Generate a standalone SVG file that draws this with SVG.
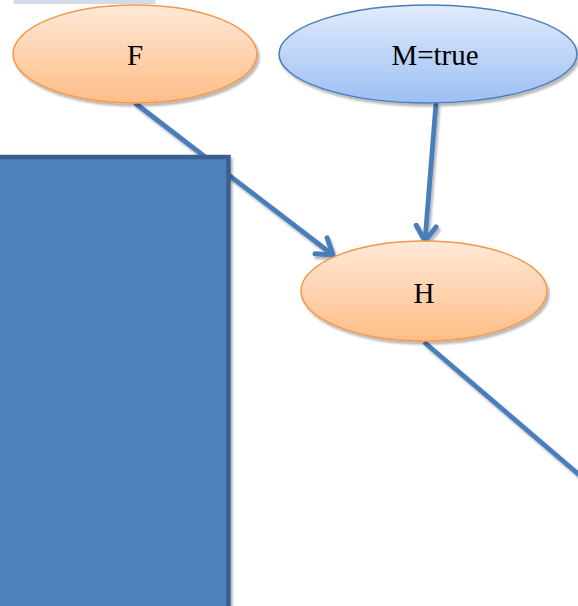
<svg xmlns="http://www.w3.org/2000/svg" width="578" height="606" viewBox="0 0 578 606">
  <defs>
    <linearGradient id="gOrange" x1="0" y1="0" x2="0" y2="1">
      <stop offset="0" stop-color="#ffe9d9"/>
      <stop offset="1" stop-color="#ffbd87"/>
    </linearGradient>
    <linearGradient id="gBlue" x1="0" y1="0" x2="0" y2="1">
      <stop offset="0" stop-color="#e1ebfc"/>
      <stop offset="1" stop-color="#9dbff4"/>
    </linearGradient>
    <filter id="shadow" x="-20%" y="-20%" width="140%" height="140%">
      <feDropShadow dx="2" dy="3" stdDeviation="1.2" flood-color="#000" flood-opacity="0.28"/>
    </filter>
    <marker id="chevron" markerUnits="userSpaceOnUse" markerWidth="26" markerHeight="26" viewBox="-22 -13 26 26" refX="0" refY="0" orient="auto">
      <path d="M -15 -10 L 0 0 L -15 10" fill="none" stroke="#4a7ebb" stroke-width="5" stroke-linecap="round" stroke-linejoin="round"/>
    </marker>
  </defs>
  <style>
    .orange { fill: url(#gOrange); stroke: #f79646; stroke-width: 1.5; filter: url(#shadow); }
    .blue { fill: url(#gBlue); stroke: #4a7ebb; stroke-width: 1.5; filter: url(#shadow); }
    .label { font-family: "Liberation Serif", "Times New Roman", serif; font-size: 29px; fill: #000; text-anchor: middle; }
    .edge { fill: none; stroke: #4a7ebb; stroke-width: 4.8; }
  </style>

  <!-- thin header strip -->
  <rect x="14" y="-1" width="141" height="4.5" fill="#d3dbe9" stroke="#c4ccdb" stroke-width="0.6"/>

  <!-- connectors -->
  <g id="connectors" filter="url(#shadow)">
    <line class="edge" x1="135" y1="103" x2="333" y2="255" marker-end="url(#chevron)"/>
    <line class="edge" x1="436" y1="103" x2="425" y2="241" marker-end="url(#chevron)"/>
    <line class="edge" x1="424" y1="342" x2="584" y2="479"/>
  </g>

  <g id="node-F">
    <ellipse class="orange" cx="135" cy="54" rx="122" ry="49"/>
    <text class="label" x="135" y="65">F</text>
  </g>

  <g id="node-M">
    <ellipse class="blue" cx="428" cy="54" rx="149" ry="49"/>
    <text class="label" x="435" y="65">M=true</text>
  </g>

  <g id="node-H">
    <ellipse class="orange" cx="424" cy="291" rx="123" ry="50"/>
    <text class="label" x="424" y="303">H</text>
  </g>

  <!-- large panel on the left -->
  <g id="panel">
    <rect x="-10" y="157" width="238.5" height="470" fill="#4f81bd" stroke="#3a6090" stroke-width="4.5" filter="url(#shadow)"/>
  </g>
</svg>
